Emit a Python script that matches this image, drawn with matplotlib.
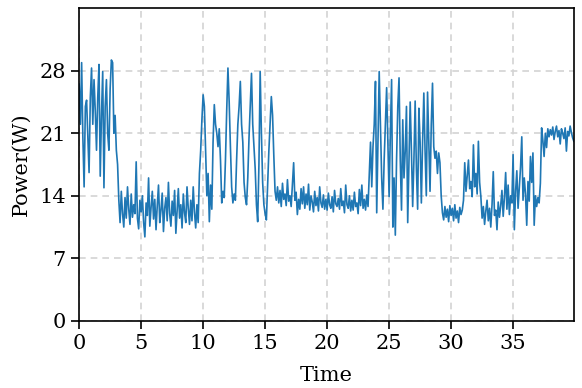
import numpy as np
import matplotlib.pyplot as plt

plt.rcParams['font.family'] = 'DejaVu Serif'
plt.rcParams['font.size'] = 15

# power readings, one value every 0.1 s (one row per second)
power = [
    26.5, 22.0, 28.9, 20.5, 15.0, 24.0, 24.7, 20.8, 16.6, 25.0,
    28.3, 22.0, 27.0, 23.5, 19.1, 25.0, 28.7, 16.2, 23.0, 27.9,
    14.9, 24.0, 27.0, 21.0, 19.1, 26.0, 29.2, 28.9, 21.0, 23.0,
    19.1, 17.5, 13.5, 11.0, 14.5, 12.0, 10.5, 13.8, 11.5, 15.0,
    12.5, 10.8, 14.2, 11.6, 13.0, 12.0, 17.8, 11.5, 10.3, 13.5,
    12.2, 14.0, 11.0, 9.4, 13.2, 11.8, 16.0, 10.6, 12.7, 14.5,
    11.4, 13.6, 10.2, 12.9, 15.2, 11.0, 12.4, 14.3, 10.0, 12.6,
    13.8, 11.2, 15.5, 12.0, 10.6, 13.4, 11.8, 14.6, 9.8, 12.3,
    14.8, 11.5, 13.0, 10.4, 14.2, 12.1, 11.0, 15.0, 12.6, 10.8,
    13.5, 11.2, 15.0, 12.2, 10.4, 13.0, 11.0, 16.5, 19.0, 22.5,
    25.3, 24.0, 19.0, 14.0, 16.5, 11.1, 15.2, 12.5, 20.0, 24.2,
    22.0, 21.0, 19.5, 21.5, 18.0, 13.2, 14.5, 13.8, 18.0, 23.5,
    28.3, 24.5, 19.5, 15.0, 13.2, 14.2, 13.5, 18.0, 22.0, 24.0,
    26.8, 22.0, 20.0, 15.5, 13.8, 13.0, 16.0, 20.5, 24.0, 27.7,
    22.0, 19.5, 17.0, 13.0, 11.1, 17.5, 27.9, 21.0, 15.5, 13.0,
    12.0, 11.3, 15.0, 19.0, 22.0, 25.1, 23.0, 18.5, 14.5, 13.5,
    15.0, 13.2, 14.6, 12.8, 15.4, 13.6, 14.2, 12.9, 15.8, 13.4,
    14.0, 12.8, 15.2, 17.7, 13.5, 14.4, 11.9, 13.6, 12.5, 14.8,
    13.1, 15.0, 12.6, 14.2, 13.0, 15.3, 12.4, 14.0, 13.3, 12.2,
    14.5, 12.9, 13.8, 12.3, 15.0, 13.2, 12.7, 14.1, 12.5, 13.6,
    12.4, 14.3, 13.0, 12.6, 13.9, 12.2, 14.6, 13.1, 12.8, 13.7,
    12.5, 14.8, 12.9, 13.4, 12.1, 15.2, 13.0, 12.6, 14.0, 12.3,
    13.5, 12.4, 14.4, 12.8, 13.2, 12.0, 14.7, 12.9, 15.2, 12.6,
    13.6, 12.4, 14.1, 12.8, 16.5, 20.0, 15.0, 19.5, 22.0, 26.8,
    12.1, 20.0, 27.9, 22.0, 16.0, 12.5, 18.0, 22.0, 26.1, 20.0,
    13.9, 21.0, 27.0, 10.5, 16.0, 9.6, 18.0, 24.0, 27.2, 18.0,
    12.4, 22.5, 16.0, 19.0, 24.0, 11.0, 18.0, 24.5, 19.0, 12.8,
    18.0, 24.6, 17.0, 12.5, 23.8, 20.0, 13.2, 20.0, 25.5, 19.0,
    14.0, 25.6, 20.0, 14.5, 22.0, 26.6, 19.5, 18.2, 19.0, 16.5,
    18.8, 17.7, 14.0, 12.1, 11.3, 12.8, 11.6, 12.5, 11.1, 12.9,
    11.8, 12.6, 11.2, 13.0, 11.5, 12.3, 11.0, 12.7, 11.9, 12.4,
    13.5, 17.7, 14.5, 16.2, 18.0, 14.8, 15.6, 13.9, 19.7, 15.0,
    16.5, 14.2, 20.1, 15.5, 13.9, 11.5, 12.8, 10.8, 12.3, 13.5,
    11.2, 12.6, 10.5, 13.0, 16.7, 11.8, 12.4, 10.2, 13.3, 11.6,
    12.9, 14.6, 11.7, 13.8, 16.6, 12.5, 15.2, 11.9, 14.0, 13.2,
    18.6, 10.2, 14.5, 16.8, 12.6, 15.0, 17.2, 20.6, 13.5, 16.0,
    14.2, 10.7, 15.6, 13.4, 18.4, 15.5, 18.8, 10.7, 14.0, 12.8,
    13.8, 13.2, 15.4, 21.6, 20.2, 18.4, 21.0, 19.4, 21.5, 20.6,
    21.4, 20.8, 21.7, 20.3, 21.2, 21.8, 20.6, 21.3, 19.8, 21.5,
    21.0, 20.4, 21.6, 19.0, 21.2, 20.7, 21.8, 21.1, 20.5, 20.1,
]
time = np.arange(len(power)) * 0.1

fig, ax = plt.subplots(figsize=(5.82, 3.88), dpi=100)
fig.subplots_adjust(left=0.136, right=0.986, top=0.979, bottom=0.173)

ax.plot(time, power, color='tab:blue', lw=1.2)

ax.set_xlim(0, time[-1])
ax.set_ylim(0, 35)
ax.set_xticks(range(0, 40, 5))
ax.set_yticks([0, 7, 14, 21, 28])
ax.tick_params(length=6, width=1.2)
for s in ax.spines.values():
    s.set_linewidth(1.2)
ax.grid(True, ls='--', color='lightgray', lw=1.2, dashes=(4, 3))
ax.set_axisbelow(True)
ax.set_xlabel('Time', labelpad=9)
ax.set_ylabel('Power(W)', labelpad=6)

plt.savefig('out.png')
